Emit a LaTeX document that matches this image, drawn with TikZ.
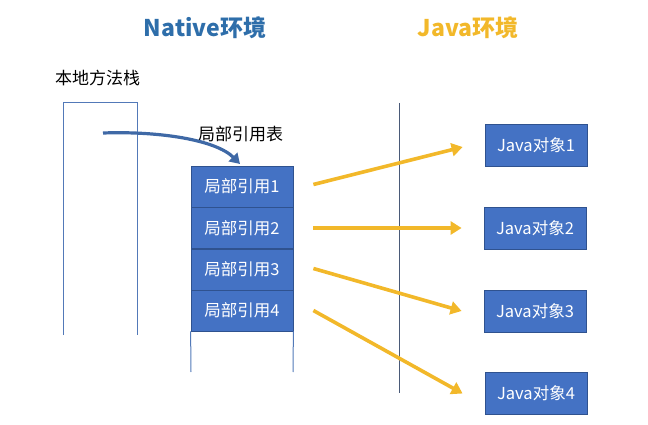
\documentclass[tikz,border=0pt]{standalone}
\usepackage{fontspec}
\setmainfont{Noto Sans CJK SC}
\usetikzlibrary{arrows.meta}
\definecolor{boxblue}{HTML}{4472C4}
\definecolor{boxedge}{HTML}{2F528F}
\definecolor{linecol}{HTML}{5279B8}
\definecolor{sepcol}{HTML}{4A5A78}
\definecolor{titleblue}{HTML}{2E6EAA}
\definecolor{gold}{HTML}{F2B82A}
\definecolor{curvecol}{HTML}{3F69A6}
\tikzset{
  cell/.style={draw=boxedge, line width=0.8pt, fill=boxblue, text=white, minimum width=102pt, minimum height=41pt, inner sep=0pt, font=\fontsize{16.5}{16.5}\selectfont},
  jbox/.style={draw=boxedge, line width=0.8pt, fill=boxblue, text=white, minimum width=102pt, minimum height=42pt, inner sep=0pt, font=\fontsize{16.5}{16.5}\selectfont},
  thin/.style={draw=linecol, line width=1pt},
  ref/.style={draw=gold, line width=3.6pt, -{Triangle[length=11pt,width=13pt]}},
  lbl/.style={font=\fontsize{17}{17}\selectfont, inner sep=0pt},
  title/.style={font=\fontsize{23}{23}\selectfont\bfseries, inner sep=0pt}
}
\begin{document}
\begin{tikzpicture}[x=1pt,y=-1pt]
\useasboundingbox (0,0) rectangle (648,425);
% titles
\node[title, text=titleblue] (tn) at (205,28) {Native环境};
\node[title, text=gold] (tj) at (468,28) {Java环境};
% native stack
\node[lbl, anchor=west] (stk) at (55,78) {本地方法栈};
\coordinate (sl) at (63,335);
\coordinate (slt) at (63,103);
\coordinate (srt) at (137,103);
\coordinate (sr) at (137,335);
\draw[thin] (sl) -- (slt) -- (srt) -- (sr);
% table
\node[lbl, anchor=west] (tbl) at (198,134) {局部引用表};
\node[cell] (r1) at (242,186.5) {局部引用1};
\node[cell] (r2) at (242,228) {局部引用2};
\node[cell] (r3) at (242,269.5) {局部引用3};
\node[cell] (r4) at (242,310.5) {局部引用4};
\coordinate (tl) at (191,372);
\coordinate (tr) at (293,372);
\draw[thin] (r4.south west) -- (tl);
\draw[thin] (r4.south east) -- (tr);
% separator
\coordinate (vt) at (399,103);
\coordinate (vb) at (399,393);
\draw[draw=sepcol, line width=0.9pt] (vt) -- (vb);
% java objects
\node[jbox] (j1) at (536,145) {Java对象1};
\node[jbox] (j2) at (535,228) {Java对象2};
\node[jbox] (j3) at (535,311) {Java对象3};
\node[jbox] (j4) at (536,393.5) {Java对象4};
% curved arrow
\coordinate (cs) at (103,133);
\coordinate (ce) at (240,164);
\coordinate (c1) at (160,131);
\coordinate (c2) at (216,140);
\draw[draw=curvecol, line width=3.2pt, -{Triangle[length=10pt,width=12pt]}] (cs) .. controls (c1) and (c2) .. (ce);
% reference arrows
\draw[ref] ([xshift=20pt,yshift=2pt]r1.east) -- ([xshift=-22pt,yshift=-2pt]j1.west);
\draw[ref] ([xshift=20pt]r2.east) -- ([xshift=-22pt]j2.west);
\draw[ref] ([xshift=20pt,yshift=1pt]r3.east) -- ([xshift=-22pt]j3.west);
\draw[ref] ([xshift=20pt]r4.east) -- ([xshift=-22pt]j4.west);
\end{tikzpicture}
\end{document}
